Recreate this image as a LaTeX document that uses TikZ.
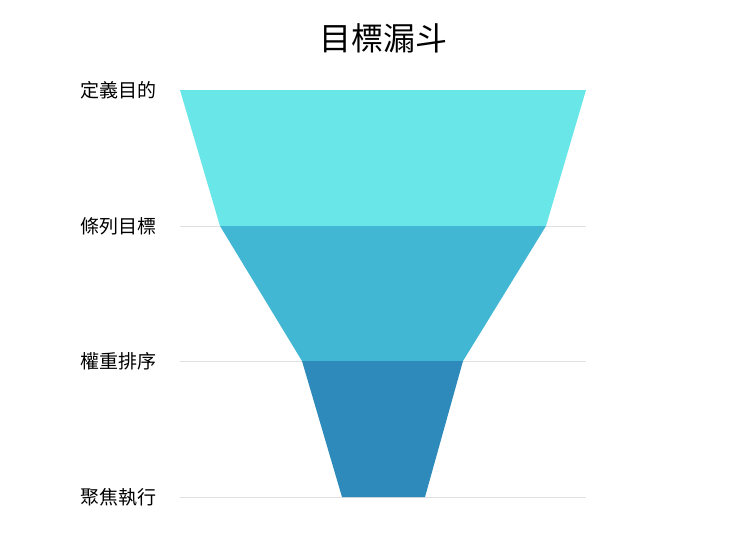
\documentclass[tikz,border=0pt]{standalone}
\usepackage{fontspec}
\newfontfamily\cjk{Noto Sans CJK TC}
\definecolor{c1}{HTML}{68E6E8}
\definecolor{c2}{HTML}{42B7D3}
\definecolor{c3}{HTML}{2E8ABA}
\definecolor{gl}{HTML}{E0E0E0}
\begin{document}
\begin{tikzpicture}[x=1pt,y=-1pt,
  lab/.style={anchor=east,font=\cjk\fontsize{19}{19}\selectfont,inner sep=0pt},
  grid/.style={draw=gl,line width=0.8pt}]
\useasboundingbox (0,0) rectangle (740,542);
\fill[white] (0,0) rectangle (740,542);
\node[font=\cjk\fontsize{32}{32}\selectfont] (title) at (383,38) {目標漏斗};
\coordinate (g1a) at (180,226); \coordinate (g1b) at (586,226);
\coordinate (g2a) at (180,361); \coordinate (g2b) at (586,361);
\coordinate (g3a) at (180,497); \coordinate (g3b) at (586,497);
\draw[grid] (g1a) -- (g1b);
\draw[grid] (g2a) -- (g2b);
\draw[grid] (g3a) -- (g3b);
\fill[c1] (180,90) -- (586,90) -- (546,226) -- (220,226) -- cycle;
\fill[c2] (220,226) -- (546,226) -- (463,361) -- (302,361) -- cycle;
\fill[c3] (302,361) -- (463,361) -- (425,497) -- (342,497) -- cycle;
\node[lab] (l1) at (157,90) {定義目的};
\node[lab] (l2) at (157,226) {條列目標};
\node[lab] (l3) at (157,361) {權重排序};
\node[lab] (l4) at (157,497) {聚焦執行};
\end{tikzpicture}
\end{document}
